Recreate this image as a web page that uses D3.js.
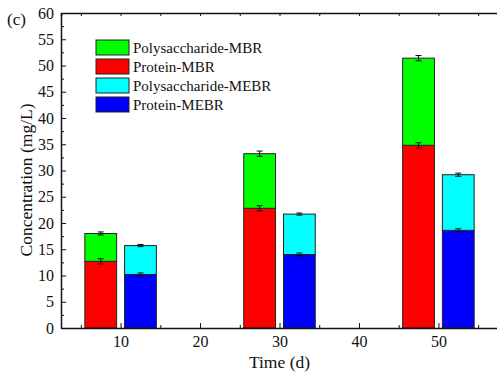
<!DOCTYPE html>
<html lang="en">
<head>
    <script src="https://d3js.org/d3.v7.min.js"></script>
    <style>
        body {
            margin: 0;
            background: white;
        }
        svg text {
            font-family: "Liberation Serif", "DejaVu Serif", serif !important;
            fill: #111;
        }
        .axis text {
            font-size: 16px;
        }
        .axis path, .axis line {
            stroke: #111;
        }
        .axis-title {
            font-size: 17.5px;
            text-anchor: middle;
        }
        .legend text {
            font-size: 15px;
        }
    </style>
</head>
<body>
<script>
    // data
    var days = [10, 30, 50];
    var proteinMBR = [12.7, 22.8, 34.8];
    var polyMBR = [5.3, 10.4, 16.6];
    var proteinMEBR = [10.2, 14.0, 18.6];
    var polyMEBR = [5.5, 7.7, 10.6];
    var errProteinMBR = [0.5, 0.5, 0.5];
    var errTotalMBR = [0.3, 0.5, 0.5];
    var errProteinMEBR = [0.3, 0.3, 0.3];
    var errTotalMEBR = [0.2, 0.2, 0.3];
    var legendNames = ["Polysaccharide-MBR", "Protein-MBR", "Polysaccharide-MEBR", "Protein-MEBR"];
    var legendColors = ["#00ff00", "#ff0000", "#00ffff", "#0000ff"];

    var width = 497, height = 379;
    var margin = {top: 13, right: -1, bottom: 51, left: 61};
    var w = width - margin.left - margin.right;
    var h = height - margin.top - margin.bottom;

    var svg = d3.select("body").append("svg")
        .attr("width", width)
        .attr("height", height);

    var g = svg.append("g")
        .attr("transform", "translate(" + margin.left + "," + margin.top + ")");

    var x = d3.scaleLinear().domain([2.5, 57.5]).range([0, w]);
    var y = d3.scaleLinear().domain([0, 60]).range([h, 0]);

    // build stacked rows: offset -2.5 for MBR, +2.5 for MEBR
    var barW = x(4) - x(0);
    var segs = [];
    days.forEach(function(d, i) {
        segs.push({x: d - 2.5, y0: 0, y1: proteinMBR[i], c: legendColors[1]});
        segs.push({x: d - 2.5, y0: proteinMBR[i], y1: proteinMBR[i] + polyMBR[i], c: legendColors[0]});
        segs.push({x: d + 2.5, y0: 0, y1: proteinMEBR[i], c: legendColors[3]});
        segs.push({x: d + 2.5, y0: proteinMEBR[i], y1: proteinMEBR[i] + polyMEBR[i], c: legendColors[2]});
    });

    var errs = [];
    days.forEach(function(d, i) {
        errs.push({x: d - 2.5, v: proteinMBR[i], e: errProteinMBR[i]});
        errs.push({x: d - 2.5, v: proteinMBR[i] + polyMBR[i], e: errTotalMBR[i]});
        errs.push({x: d + 2.5, v: proteinMEBR[i], e: errProteinMEBR[i]});
        errs.push({x: d + 2.5, v: proteinMEBR[i] + polyMEBR[i], e: errTotalMEBR[i]});
    });

    g.selectAll(".seg")
        .data(segs)
        .enter().append("rect")
        .attr("class", "seg")
        .attr("x", function(d) { return x(d.x) - barW / 2; })
        .attr("y", function(d) { return y(d.y1); })
        .attr("width", barW)
        .attr("height", function(d) { return y(d.y0) - y(d.y1); })
        .attr("fill", function(d) { return d.c; })
        .attr("stroke", "#222")
        .attr("stroke-width", 1);

    // error bars
    var eb = g.selectAll(".err").data(errs).enter().append("g")
        .attr("class", "err")
        .attr("stroke", "#111")
        .attr("stroke-width", 1);
    eb.append("line")
        .attr("x1", function(d) { return x(d.x); })
        .attr("x2", function(d) { return x(d.x); })
        .attr("y1", function(d) { return y(d.v - d.e); })
        .attr("y2", function(d) { return y(d.v + d.e); });
    eb.append("line")
        .attr("x1", function(d) { return x(d.x) - 3; })
        .attr("x2", function(d) { return x(d.x) + 3; })
        .attr("y1", function(d) { return y(d.v + d.e); })
        .attr("y2", function(d) { return y(d.v + d.e); });
    eb.append("line")
        .attr("x1", function(d) { return x(d.x) - 3; })
        .attr("x2", function(d) { return x(d.x) + 3; })
        .attr("y1", function(d) { return y(d.v - d.e); })
        .attr("y2", function(d) { return y(d.v - d.e); });

    // axes, ticks inward
    g.append("g")
        .attr("class", "axis")
        .attr("transform", "translate(0," + h + ")")
        .call(d3.axisBottom(x).tickValues([10, 20, 30, 40, 50]).tickSizeInner(-5).tickSizeOuter(0).tickPadding(8))
        .call(function(a) { a.select(".domain").attr("stroke-width", 1.5); });
    g.append("g")
        .attr("class", "axis")
        .attr("transform", "translate(0," + h + ")")
        .call(d3.axisBottom(x).tickValues([5, 15, 25, 35, 45, 55]).tickSize(-3).tickFormat(""))
        .call(function(a) { a.select(".domain").remove(); });

    g.append("g")
        .attr("class", "axis")
        .call(d3.axisLeft(y).tickValues(d3.range(0, 61, 5)).tickSizeInner(-5).tickSizeOuter(0).tickPadding(7))
        .call(function(a) { a.select(".domain").attr("stroke-width", 1.5); });
    g.append("g")
        .attr("class", "axis")
        .call(d3.axisLeft(y).tickValues(d3.range(2.5, 60, 5)).tickSize(-3).tickFormat(""))
        .call(function(a) { a.select(".domain").remove(); });

    // top mirror axis
    g.append("g")
        .attr("class", "axis")
        .call(d3.axisTop(x).tickValues(d3.range(5, 57, 5)).tickSize(-3).tickFormat(""))
        .call(function(a) { a.select(".domain").attr("stroke-width", 1.5); });

    // axis titles
    svg.append("text")
        .attr("class", "axis-title")
        .attr("x", margin.left + x(30))
        .attr("y", 368)
        .text("Time (d)");

    svg.append("text")
        .attr("class", "axis-title")
        .attr("transform", "translate(32," + 180 + ") rotate(-90)")
        .text("Concentration (mg/L)");

    svg.append("text")
        .attr("x", 7)
        .attr("y", 25)
        .style("font-size", "17px")
        .text("(c)");

    // legend
    var leg = svg.append("g").attr("class", "legend")
        .attr("transform", "translate(96,40)");
    var rows = leg.selectAll("g").data(legendNames).enter().append("g")
        .attr("transform", function(d, i) { return "translate(0," + (i * 19) + ")"; });
    rows.append("rect")
        .attr("width", 33)
        .attr("height", 15)
        .attr("fill", function(d, i) { return legendColors[i]; })
        .attr("stroke", "#222");
    rows.append("text")
        .attr("x", 37)
        .attr("y", 12.5)
        .text(function(d) { return d; });
</script>
</body>
</html>
